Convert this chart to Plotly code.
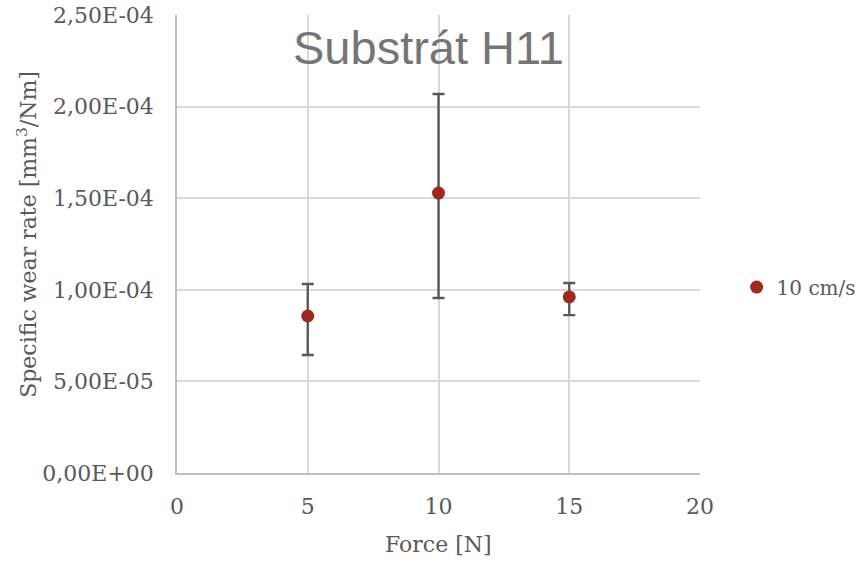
import plotly.graph_objects as go

force = [5, 10, 15]
wear_rate = [8.57e-05, 1.528e-04, 9.61e-05]
err_plus = [1.75e-05, 5.41e-05, 0.76e-05]
err_minus = [2.13e-05, 5.73e-05, 0.99e-05]
series_name = "10 cm/s"

y_tickvals = [0, 5e-05, 1e-04, 1.5e-04, 2e-04, 2.5e-04]
y_ticktext = ["0,00E+00", "5,00E-05", "1,00E-04", "1,50E-04", "2,00E-04", "2,50E-04"]
x_tickvals = [0, 5, 10, 15, 20]

serif = "DejaVu Serif"
grey = "#595959"
fs = 22

fig = go.Figure()
fig.add_trace(go.Scatter(
    x=force, y=wear_rate, mode="markers", name=series_name,
    marker=dict(color="#9E2A1F", size=13),
    error_y=dict(type="data", symmetric=False, array=err_plus, arrayminus=err_minus,
                 color="#595959", thickness=2.4, width=6),
))

fig.update_layout(
    width=861, height=563,
    margin=dict(l=177, r=161, t=15, b=90, autoexpand=False),
    paper_bgcolor="white", plot_bgcolor="white",
    font=dict(family=serif, size=fs, color=grey),
    showlegend=True,
    legend=dict(x=1.07, y=0.406, xanchor="left", yanchor="middle",
                font=dict(family=serif, size=20, color=grey),
                bgcolor="rgba(0,0,0,0)", itemwidth=30),
    xaxis=dict(range=[0, 20], tickvals=x_tickvals, showgrid=True, gridcolor="#d9d9d9",
               gridwidth=1.5, zeroline=False, showline=True, linecolor="#bfbfbf", linewidth=1.5,
               ticks="outside", ticklen=13, tickcolor="rgba(0,0,0,0)", automargin=False,
               tickfont=dict(family=serif, size=fs, color=grey)),
    yaxis=dict(range=[0, 2.5e-04], tickvals=y_tickvals, ticktext=y_ticktext, showgrid=True,
               gridcolor="#d9d9d9", gridwidth=1.5, zeroline=False, showline=True,
               linecolor="#bfbfbf", linewidth=1.5, automargin=False,
               ticks="outside", ticklen=17, tickcolor="rgba(0,0,0,0)",
               tickfont=dict(family=serif, size=fs, color=grey)),
    annotations=[
        dict(text="Substrát H11", x=0.48, y=0.928, xref="paper", yref="paper",
             xanchor="center", yanchor="middle",
             showarrow=False, font=dict(family="Liberation Sans", size=47, color="#757575")),
        dict(text="Force [N]", x=0.5, y=-0.157, xref="paper", yref="paper",
             xanchor="center", yanchor="middle",
             showarrow=False, font=dict(family=serif, size=fs, color=grey)),
        dict(text="Specific wear rate [mm<sup>3</sup>/Nm]", x=-0.287, y=0.522,
             xref="paper", yref="paper", textangle=-90, xanchor="center", yanchor="middle",
             showarrow=False, font=dict(family=serif, size=fs, color=grey)),
    ],
)

fig.write_html("out.html", config={"displayModeBar": False},
               post_script="document.body.style.margin='0';")
